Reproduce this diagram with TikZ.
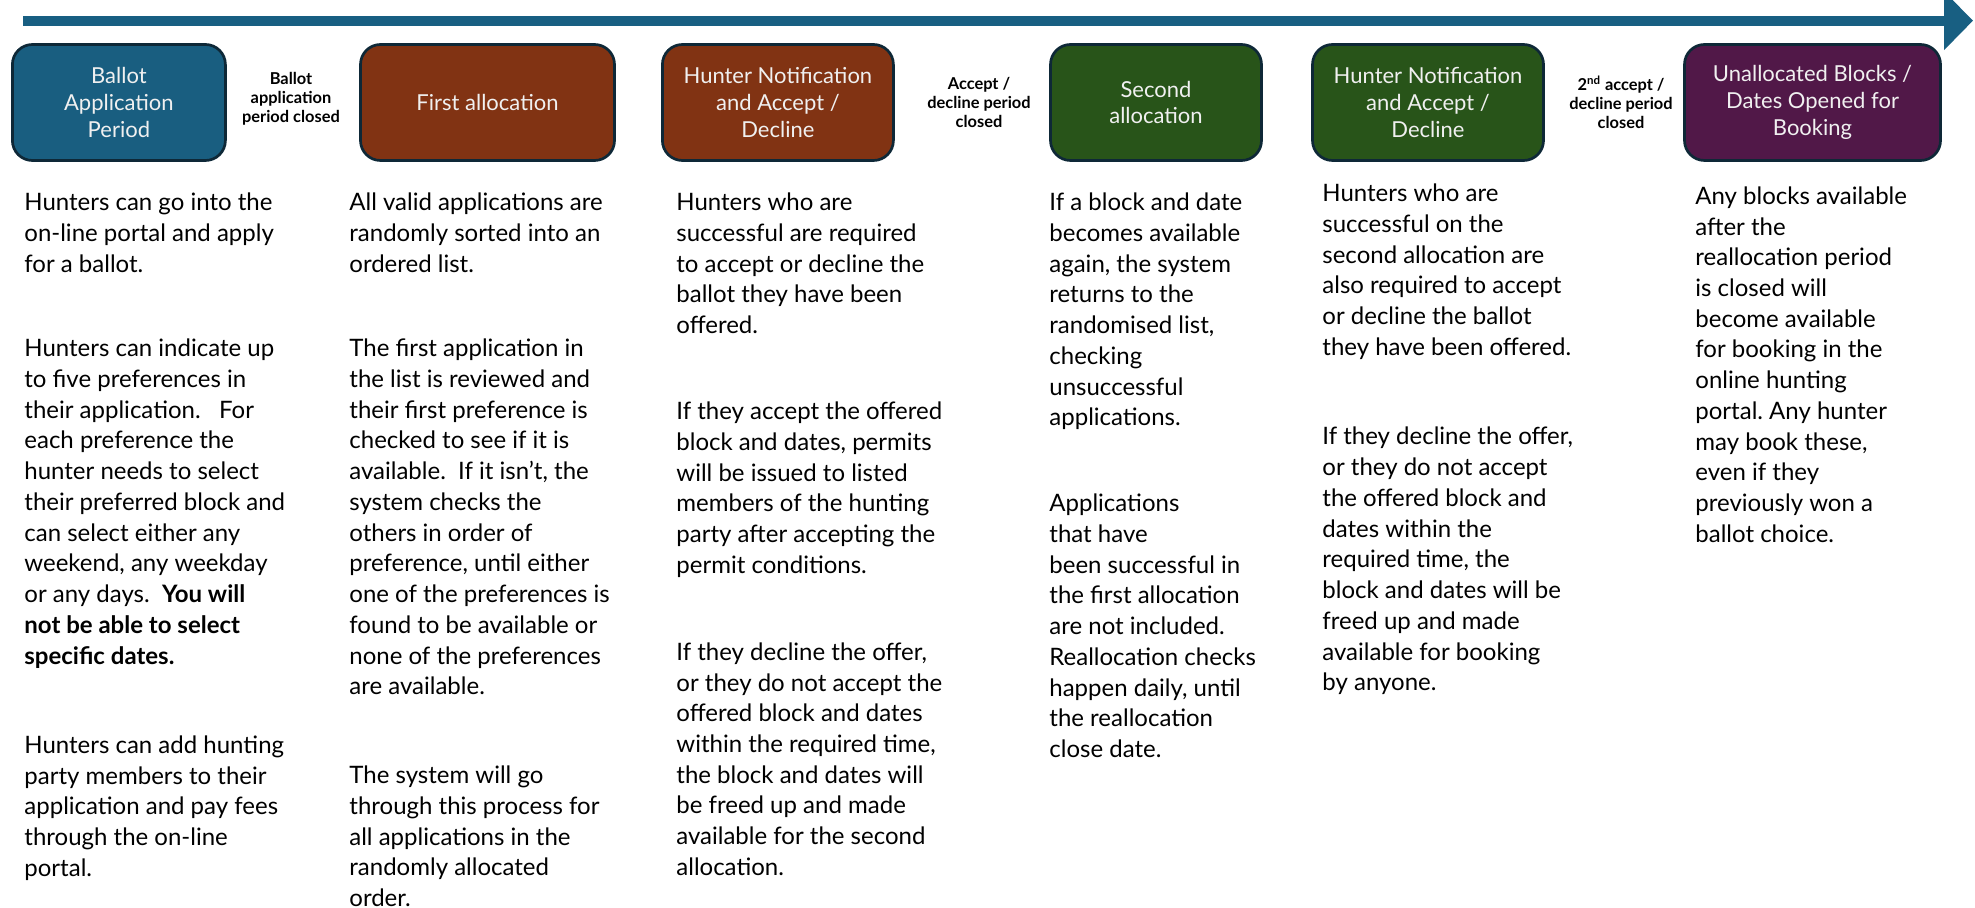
\documentclass[tikz,border=0pt]{standalone}
\usepackage{fontspec}
\setmainfont{Lato}
\usepackage{xcolor}
\definecolor{ColLine}{RGB}{24,95,130}
\definecolor{ColBlue}{RGB}{25,94,128}
\definecolor{ColBrown}{RGB}{129,51,19}
\definecolor{ColGreen}{RGB}{40,84,25}
\definecolor{ColPurple}{RGB}{81,24,72}
\definecolor{ColRim}{RGB}{14,40,55}
\usepackage{tikz}
\usetikzlibrary{arrows.meta}
\frenchspacing
\tikzstyle{Phase}=[draw=ColRim,line width=1.35pt,rounded corners=10pt,
minimum height=58pt,text=white!94!black,align=center,inner sep=2pt,
font=\fontsize{11}{13.3}\selectfont]
\tikzstyle{Gate}=[align=center,inner sep=0pt,
font=\fontsize{8.2}{9.5}\selectfont\bfseries]
\tikzstyle{Para}=[anchor=north west,inner sep=0pt,align=left,
font=\fontsize{12}{15.37}\selectfont,execute at begin node={\rule{0pt}{11pt}}]
\tikzstyle{Timeline}=[draw=ColLine,line width=5pt,
-{Triangle[length=14.5pt,width=28.6pt]}]

\begin{document}
\begin{tikzpicture}[x=0.5pt,y=-0.5pt]
        \useasboundingbox(0,0)rectangle(1975,908);
        % timeline
        \coordinate(tl0)at(23,20.7);
        \coordinate(tl1)at(1973,20.7);
        \draw[Timeline](tl0)--(tl1);
        % phases
        \node[Phase,fill=ColBlue,minimum width=106.5pt](ballot)at(118.9,102.5){Ballot\\Application\\Period};
        \node[Phase,fill=ColBrown,minimum width=127pt](first)at(487.5,102.5){First allocation};
        \node[Phase,fill=ColBrown,minimum width=115.5pt](notify1)at(777.9,102.5){Hunter Notification\\and Accept /\\Decline};
        \node[Phase,fill=ColGreen,minimum width=105.5pt](second)at(1156,102.5){Second\\allocation};
        \node[Phase,fill=ColGreen,minimum width=115.5pt](notify2)at(1428,102.5){Hunter Notification\\and Accept /\\Decline};
        \node[Phase,fill=ColPurple,minimum width=128pt](open)at(1812.5,102.5){Unallocated Blocks /\\Dates Opened for\\Booking};
        % gates between phases
        \node[Gate](gate1)at(291,98.5){Ballot\\application\\period closed};
        \node[Gate](gate2)at(979,102){Accept /\\decline period\\closed};
        \node[Gate](gate3)at(1621,102){2\textsuperscript{nd} accept /\\decline period\\closed};
        % column 1
        \node[Para](c1a)at(24,192.5){Hunters can go into the\\on-line portal and apply\\for a ballot.};
        \node[Para](c1b)at(24,338.7){Hunters can indicate up\\to five preferences in\\their application.\ \ \ For\\each preference the\\hunter needs to select\\their preferred block and\\can select either any\\weekend, any weekday\\or any days.\ \ \textbf{You will}\\\textbf{not be able to select}\\\textbf{specific dates.}};
        \node[Para](c1c)at(24,735.4){Hunters can add hunting\\party members to their\\application and pay fees\\through the on-line\\portal.};
        % column 2
        \node[Para](c2a)at(349,192.5){All valid applications are\\randomly sorted into an\\ordered list.};
        \node[Para](c2b)at(349,338.7){The first application in\\the list is reviewed and\\their first preference is\\checked to see if it is\\available.\ \ If it isn’t, the\\system checks the\\others in order of\\preference, until either\\one of the preferences is\\found to be available or\\none of the preferences\\are available.};
        \node[Para](c2c)at(349,765.7){The system will go\\through this process for\\all applications in the\\randomly allocated\\order.};
        % column 3
        \node[Para](c3a)at(676,192.5){Hunters who are\\successful are required\\to accept or decline the\\ballot they have been\\offered.};
        \node[Para](c3b)at(676,401.6){If they accept the offered\\block and dates, permits\\will be issued to listed\\members of the hunting\\party after accepting the\\permit conditions.};
        \node[Para](c3c)at(676,642.2){If they decline the offer,\\or they do not accept the\\offered block and dates\\within the required time,\\the block and dates will\\be freed up and made\\available for the second\\allocation.};
        % column 4
        \node[Para](c4a)at(1049,192.5){If a block and date\\becomes available\\again, the system\\returns to the\\randomised list,\\checking\\unsuccessful\\applications.};
        \node[Para](c4b)at(1049,493.6){Applications\\that have\\been successful in\\the first allocation\\are not included.\\Reallocation checks\\happen daily, until\\the reallocation\\close date.};
        % column 5
        \node[Para](c5a)at(1322,183.7){Hunters who are\\successful on the\\second allocation are\\also required to accept\\or decline the ballot\\they have been offered.};
        \node[Para](c5b)at(1322,426.8){If they decline the offer,\\or they do not accept\\the offered block and\\dates within the\\required time, the\\block and dates will be\\freed up and made\\available for booking\\by anyone.};
        % column 6
        \node[Para](c6a)at(1695,186.2){Any blocks available\\after the\\reallocation period\\is closed will\\become available\\for booking in the\\online hunting\\portal. Any hunter\\may book these,\\even if they\\previously won a\\ballot choice.};
    \end{tikzpicture}
\end{document}
